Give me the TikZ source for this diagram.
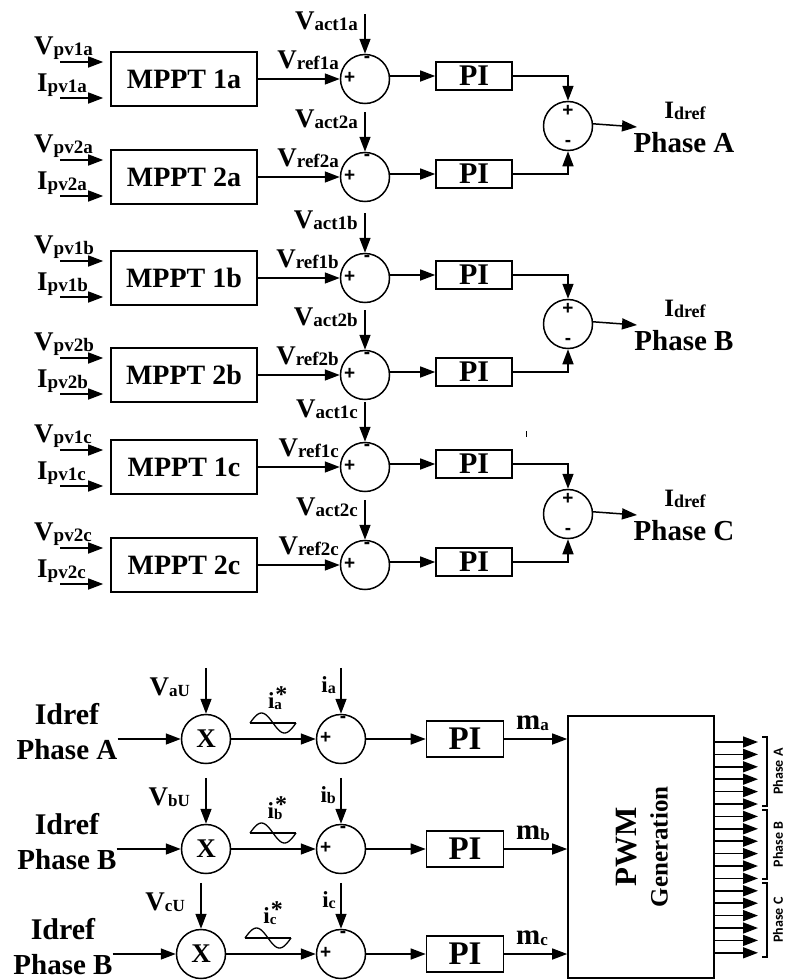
\documentclass[tikz,border=0pt]{standalone}
\usepackage{fontspec}
\setmainfont{Liberation Serif}
\newfontfamily\phfont{Carlito}
\newfontfamily\sgnfont{Liberation Sans}
\usetikzlibrary{arrows.meta,positioning,calc}
\newcommand{\fs}[1]{\fontsize{#1}{#1}\selectfont}
\newcommand{\sig}[3][19]{#2\raisebox{-1pt}{\fs{#1}#3}}
\newcommand{\istar}[1]{i\makebox[0pt][l]{\hspace{1pt}\raisebox{6pt}{\fs{24}*}}\raisebox{-1pt}{\fs{15}#1}}
\tikzset{
  mppt/.style={draw, line width=1.6pt, minimum width=146pt, minimum height=54pt, inner sep=0pt, font=\bfseries\fs{28}},
  pibox/.style={draw, line width=1.6pt, minimum width=76pt, minimum height=28pt, inner sep=0pt, font=\bfseries\fs{30}},
  pibig/.style={pibox, minimum width=77pt, minimum height=36pt, font=\bfseries\fs{33}},
  sumc/.style={draw, circle, line width=1.5pt, minimum size=49pt, inner sep=0pt},
  mulc/.style={sumc, font=\bfseries\fs{27}},
  pwmbox/.style={draw, line width=1.6pt, minimum width=146pt, minimum height=262pt},
  sgn/.style={inner sep=0pt, font=\sgnfont\bfseries\fs{19}},
  lbl/.style={inner sep=0pt, font=\bfseries\fs{27}},
  blbl/.style={inner sep=0pt, font=\bfseries\fs{29}},
  arr/.style={-{Triangle[length=15pt,width=11pt]}, line width=1.5pt}
}
\begin{document}
\begin{tikzpicture}[x=1pt, y=-1pt]
  \useasboundingbox (0,0) rectangle (786,980);
  % MPPT stages, two per phase
  \foreach \g/\ya/\yb/\ys/\ph in {a/79/177/126/A, b/278/375/324/B, c/467/565/514/C} {
    \foreach \k/\y in {1/\ya, 2/\yb} {
      \node[mppt] (mp\k\g) at (184,\y) {MPPT \k\g};
      \node[sumc] (sv\k\g) at (365,\y) {};
      \node[pibox] (pi\k\g) at (474,\y-3) {PI};
      \coordinate (vi\k\g) at (60,\y-17);
      \coordinate (ii\k\g) at (60,\y+19);
      \coordinate (va\k\g) at (365,\y-65);
      \node[lbl, anchor=base west] at (34,\y-25) {\sig{V}{pv\k\g}};
      \node[lbl, anchor=base west] at (37,\y+12) {\sig{I}{pv\k\g}};
      \node[lbl, anchor=base east] at (339,\y-11) {\sig{V}{ref\k\g}};
      \node[lbl, anchor=base east] at (358,\y-50) {\sig{V}{act\k\g}};
      \node[sgn] at ($(sv\k\g.west)+(10,-1)$) {+};
      \node[sgn] at ($(sv\k\g.north)+(2,6)$) {-};
      \draw[arr, shorten >=7pt] (vi\k\g) -- (vi\k\g -| mp\k\g.west);
      \draw[arr, shorten >=7pt] (ii\k\g) -- (ii\k\g -| mp\k\g.west);
      \draw[arr] (mp\k\g.east) -- (sv\k\g.west);
      \draw[arr] (va\k\g) -- (sv\k\g.north);
      \draw[arr] (sv\k\g.east |- pi\k\g.west) -- (pi\k\g.west);
    }
    \node[sumc] (sp\g) at (568,\ys) {};
    \node[sgn] at ($(sp\g.north)+(0,10)$) {+};
    \node[sgn] at ($(sp\g.south)+(0,-8)$) {-};
    \coordinate (id\g) at (637,\ys+1);
    \draw[arr] (pi1\g.east) -| (sp\g.north);
    \draw[arr] (pi2\g.east) -| (sp\g.south);
    \draw[arr] (sp\g.5) -- (id\g);
    \node[lbl, font=\bfseries\fs{25}] at (685,\ys-15) {\sig[18]{I}{dref}};
    \node[blbl] at (684,\ys+17) {Phase \ph};
  }
  \draw[line width=1pt] (526,431) -- (526,437);

  % current control and PWM
  \node[pwmbox] (pwm) at (641,847) {};
  \node[rotate=90, inner sep=0pt, font=\bfseries\fs{31}] at (627,847) {PWM};
  \node[rotate=90, inner sep=0pt, font=\bfseries\fs{25}] at (659,847) {Generation};
  \foreach \p/\y/\xm/\ph/\xl in {a/739/206/A/67, b/849/206/B/67, c/954/201/B/63} {
    \node[blbl, font=\bfseries\fs{30}] (ir\p) at (\xl,\y-25) {Idref};
    \node[blbl] (ph\p) at (\xl,\y+11) {Phase \ph};
    \node[mulc] (mx\p) at (\xm,\y) {X};
    \node[sumc] (se\p) at (341,\y) {};
    \node[pibig] (pe\p) at (465,\y) {PI};
    \coordinate (vu\p) at ($(mx\p.north)+(0,-46)$);
    \coordinate (ia\p) at ($(se\p.north)+(0,-46)$);
    \node[lbl, anchor=base east] at (\xm-16,\y-44) {\sig[17]{V}{\p U}};
    \node[lbl, font=\bfseries\fs{23}, anchor=base] at (\xm+69,\y-31) {\istar{\p}};
    \node[lbl, font=\bfseries\fs{23}, anchor=base east] at (336,\y-47) {\sig[16]{i}{\p}};
    \node[lbl, font=\bfseries\fs{29}, anchor=base west] at (516,\y-10) {\sig[17]{m}{\p}};
    \node[sgn] at ($(se\p.west)+(10,-1)$) {+};
    \node[sgn] at ($(se\p.north)+(2,6)$) {-};
    \draw[line width=1.3pt] (\xm+44,\y-16) -- (\xm+90,\y-16);
    \draw[line width=1.3pt] plot[domain=0:360, samples=37] ({\xm+44+\x/360*46}, {\y-16-10*sin(\x)});
    \draw[arr] (ph\p.east |- mx\p.west) -- (mx\p.west);
    \draw[arr] (vu\p) -- (mx\p.north);
    \draw[arr] (ia\p) -- (se\p.north);
    \draw[arr] (mx\p) -- (se\p);
    \draw[arr] (se\p) -- (pe\p);
    \draw[arr] (pe\p.east) -- (pe\p.east -| pwm.west);
  }
  \foreach \j in {0,...,17} {
    \coordinate (o\j) at (758,742+12.4*\j);
    \draw[arr] (pwm.east |- o\j) -- (o\j);
  }
  \foreach \ph/\t/\b in {A/737/806, B/810/879, C/883/957} {
    \draw[line width=1.2pt] (762,\t) -- (767,\t) -- (767,\b) -- (762,\b);
    \node[rotate=90, inner sep=0pt, font=\phfont\bfseries\fs{14}] at (778,{(\t+\b)/2}) {Phase \ph};
  }
\end{tikzpicture}
\end{document}
